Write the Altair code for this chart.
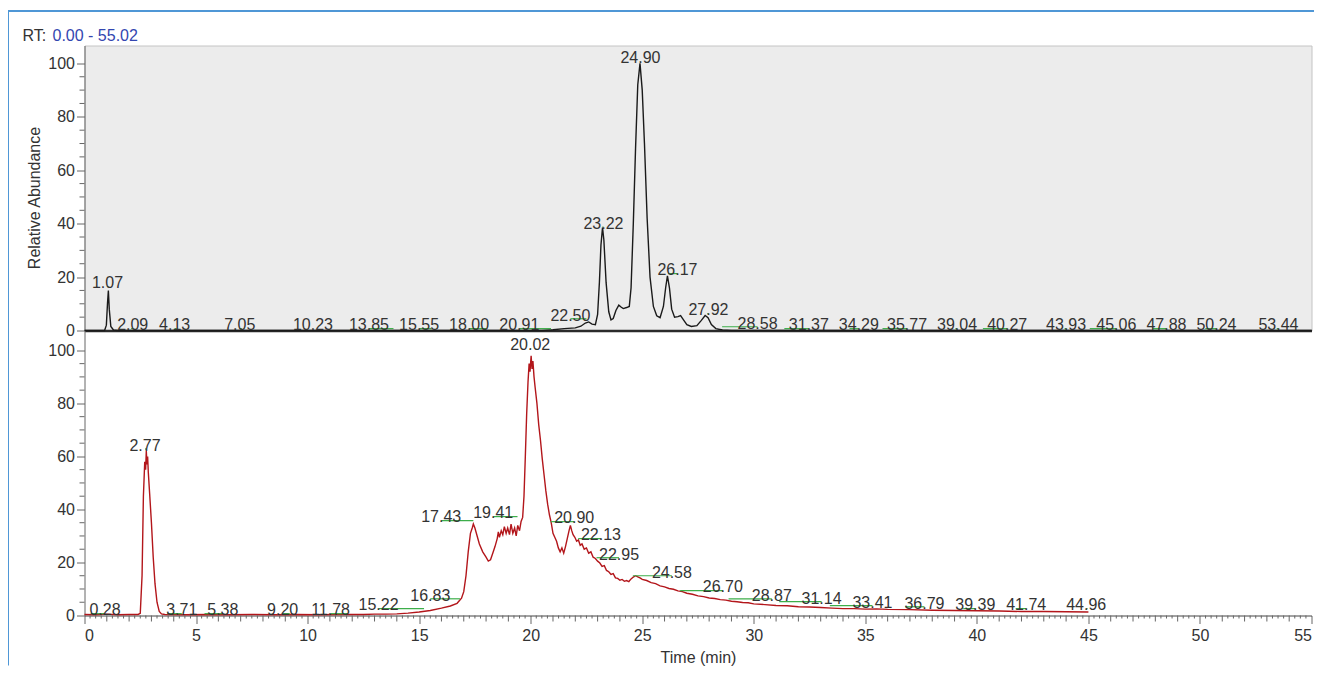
import altair as alt
import pandas as pd

# upper chromatogram (black trace)
upper_time = [0.0, 0.9, 0.98, 1.03, 1.07, 1.11, 1.18, 1.3, 1.5, 20.5, 21.0, 21.5, 22.0, 22.25,
              22.45, 22.6, 22.75, 22.9, 23.0, 23.08, 23.15, 23.22, 23.28, 23.38, 23.5, 23.6,
              23.7, 23.82, 23.95, 24.05, 24.15, 24.3, 24.42, 24.5, 24.6, 24.7, 24.8, 24.9,
              25.0, 25.1, 25.22, 25.35, 25.5, 25.65, 25.8, 25.95, 26.05, 26.13, 26.22, 26.32,
              26.45, 26.6, 26.72, 26.85, 27.0, 27.2, 27.45, 27.65, 27.82, 27.95, 28.1, 28.3,
              28.6, 29.0, 55.0]
upper_abund = [0, 0, 2, 10, 15, 8, 1.5, 0.2, 0, 0, 0.3, 0.7, 1.0, 1.6,
               2.8, 3.2, 2.4, 2.2, 6, 18, 32, 38.5, 34, 18, 7, 4,
               4.5, 7.5, 9.5, 8.8, 8.2, 8.6, 9, 16, 40, 68, 92, 100,
               90, 70, 42, 20, 9, 5.5, 4.8, 9, 16, 20.5, 16, 8,
               5, 5.2, 5.6, 4, 2.2, 1.5, 1.8, 3.8, 5.6, 4.8, 2.2, 0.7,
               0.2, 0, 0]

# lower chromatogram (red trace)
lower_time = [0.0, 0.5, 1.0, 1.5, 2.0, 2.4, 2.5, 2.58, 2.64, 2.7, 2.74, 2.77, 2.8, 2.83, 2.86,
              2.92, 3.0, 3.08, 3.16, 3.25, 3.35, 3.45, 3.6, 4.5, 5.5, 6.5, 7.5, 8.5, 9.5, 10.5,
              11.5, 12.5, 13.0, 13.5, 14.0, 14.5, 15.0, 15.5, 16.0, 16.4, 16.7, 16.9, 17.0,
              17.1, 17.2, 17.3, 17.38, 17.43, 17.5, 17.6, 17.7, 17.85, 18.0, 18.1, 18.2, 18.3,
              18.4, 18.5, 18.55, 18.6, 18.68, 18.75, 18.82, 18.9, 18.97, 19.05, 19.12, 19.2,
              19.28, 19.35, 19.42, 19.5, 19.57, 19.64, 19.7, 19.76, 19.82, 19.88, 19.93, 19.97,
              20.02, 20.06, 20.1, 20.15, 20.2, 20.28, 20.36, 20.44, 20.52, 20.6, 20.68, 20.76,
              20.84, 20.92, 21.0, 21.08, 21.16, 21.24, 21.32, 21.4, 21.48, 21.56, 21.64, 21.72,
              21.78, 21.84, 21.9, 21.98, 22.06, 22.14, 22.22, 22.3, 22.4, 22.5, 22.6, 22.7,
              22.8, 22.9, 23.0, 23.1, 23.2, 23.3, 23.4, 23.5, 23.6, 23.7, 23.8, 23.9, 24.0,
              24.1, 24.2, 24.3, 24.4, 24.5, 24.6, 24.7, 24.8, 24.9, 25.0, 25.2, 25.4, 25.6,
              25.8, 26.0, 26.2, 26.4, 26.6, 26.8, 27.0, 27.25, 27.5, 27.75, 28.0, 28.25, 28.5,
              28.75, 29.0, 29.25, 29.5, 29.75, 30.0, 30.5, 31.0, 31.5, 32.0, 32.5, 33.0, 33.5,
              34.0, 34.5, 35.0, 35.5, 36.0, 37.0, 38.0, 39.0, 40.0, 41.0, 42.0, 43.0, 44.0, 45.0]
lower_abund = [0.4, 0.3, 0.5, 0.3, 0.4, 0.4, 0.8, 15, 45, 58, 55, 62, 57, 60, 54,
               46, 35, 22, 12, 5, 1.5, 0.6, 0.4, 0.3, 0.4, 0.3, 0.4, 0.3, 0.4, 0.3,
               0.4, 0.4, 0.5, 0.5, 0.6, 0.9, 1.3, 1.9, 2.8, 3.6, 4.6, 6.5, 9,
               15, 24, 31, 33, 34.5, 33, 30, 27, 24, 22, 20.5, 21, 23.5,
               26, 29, 31.5, 29.5, 32, 30.5, 33.5, 31, 33, 30.5, 34.5, 31,
               33, 30, 34, 32, 35.5, 37, 45, 60, 76, 88, 95, 92,
               98, 93, 96, 90, 86, 80, 72, 66, 59, 53, 47, 42,
               38, 35, 31, 29.5, 28, 25.5, 24, 25.5, 23.5, 26, 29, 32,
               34, 32, 30.5, 29.5, 28, 28.5, 26.5, 27, 25, 25.5, 23.5, 24,
               22, 21.5, 20.5, 19.8, 18.5, 18.8, 17, 16.5, 15.5, 15.8, 14.2, 14, 13.3,
               13.6, 12.9, 13.2, 12.8, 13.8, 14.5, 15, 14.6, 14.2, 13.6, 13.2, 12.4, 12.0,
               11.2, 10.8, 10.2, 9.9, 9.3, 9.0, 8.4, 8.0, 7.4, 7.1, 6.6, 6.4, 6.0,
               5.8, 5.4, 5.2, 4.9, 4.8, 4.4, 4.1, 3.8, 3.7, 3.3, 3.2, 3.0, 2.8,
               2.6, 2.6, 2.4, 2.5, 2.3, 2.2, 2.0, 1.9, 1.8, 1.7, 1.5, 1.5, 1.4, 1.3]

# peak labels: text, where the text sits (time) and its baseline height
upper_labels = ["1.07", "2.09", "4.13", "7.05", "10.23", "13.85", "15.55", "18.00", "20.91",
                "22.50", "23.22", "24.90", "26.17", "27.92", "28.58", "31.37", "34.29", "35.77",
                "39.04", "40.27", "43.93", "45.06", "47.88", "50.24", "53.44"]
upper_label_time = [1.03, 2.16, 4.04, 6.96, 10.24, 12.75, 15.0, 17.24, 19.49,
                    21.78, 23.26, 24.92, 26.58, 27.97, 30.17, 32.47, 34.71, 36.87,
                    39.11, 41.36, 44.0, 46.25, 48.5, 50.74, 53.52]
upper_label_height = [17.6, 1.9, 1.9, 1.9, 1.9, 1.9, 1.9, 1.9, 1.9,
                      5.6, 40, 101.9, 22.5, 7.5, 2.6, 1.9, 1.9, 1.9,
                      1.9, 1.9, 1.9, 1.9, 1.9, 1.9, 1.9]

lower_labels = ["0.28", "2.77", "3.71", "5.38", "9.20", "11.78", "15.22", "16.83", "17.43",
                "19.41", "20.02", "20.90", "22.13", "22.95", "24.58", "26.70", "28.87", "31.14",
                "33.41", "36.79", "39.39", "41.74", "44.96"]
lower_label_time = [0.92, 2.71, 4.36, 6.20, 8.88, 11.03, 13.18, 15.50, 15.99,
                    18.32, 19.98, 21.95, 23.15, 23.96, 26.33, 28.61, 30.81, 33.04,
                    35.32, 37.65, 39.93, 42.21, 44.90]
lower_label_height = [1.9, 64, 1.9, 1.9, 1.9, 1.9, 3.8, 7.5, 37,
                      38.5, 101.9, 36.6, 30.2, 23, 16.2, 10.6, 7.5, 6.4,
                      4.9, 4.5, 3.8, 3.8, 3.8]

rt_range = ["0.00", "55.02"]

# axis ticks
x_major = list(range(0, 56, 5))
x_mid = [m for m in range(0, 56) if m % 5 != 0]
x_small = [q / 4 for q in range(0, 221) if q % 4 != 0]
y_major = [0, 20, 40, 60, 80, 100]
y_minor = [v for v in range(5, 101, 5) if v % 20 != 0]

FONT = "Arial, Liberation Sans, sans-serif"
FS = 16
TEXT = "#333333"
GREEN = "#3dae4a"
BLUE = "#4f97d6"
TICK = "#666666"
W, H = 1227, 285


def panel(time, abund, labels, lab_t, lab_y, color, y_top, x_axis, y_title):
    trace = pd.DataFrame({"time": time, "abund": abund})
    peaks = pd.DataFrame({"label": labels, "lt": lab_t, "ly": lab_y})
    peaks["peak"] = peaks["label"].astype(float)
    peaks["gy"] = peaks["ly"] - 1.2
    xs = alt.Scale(domain=[0, 55], nice=False, zero=False)
    ys = alt.Scale(domain=[0, y_top], nice=False)
    y_axis = alt.Axis(values=y_major, tickSize=8, labelPadding=2,
                      title=y_title, titlePadding=5, titleY=152)
    line = alt.Chart(trace).mark_line(color=color, strokeWidth=1.4).encode(
        x=alt.X("time:Q", scale=xs, axis=x_axis),
        y=alt.Y("abund:Q", scale=ys, axis=y_axis),
    )
    green = alt.Chart(peaks).mark_rule(color=GREEN, strokeWidth=1.2).encode(
        x="peak:Q", x2="lt:Q", y="gy:Q"
    )
    text = alt.Chart(peaks).mark_text(font=FONT, fontSize=FS, color=TEXT).encode(
        x="lt:Q", y="ly:Q", text="label:N"
    )
    y_small = alt.Chart(pd.DataFrame({"tick": y_minor})).mark_rule(color=TICK).encode(
        y="tick:Q", x=alt.value(-5), x2=alt.value(0)
    )
    return [line, green, text, y_small]


one = pd.DataFrame({"rt": [f"{rt_range[0]} - {rt_range[1]}"]})
rt_head = alt.Chart(one).mark_text(
    text="RT:", font=FONT, fontSize=FS, color=TEXT, align="left"
).encode(x=alt.value(-62), y=alt.value(-10))
rt_text = alt.Chart(one).mark_text(
    font=FONT, fontSize=FS, color="#3346b0", align="left"
).encode(x=alt.value(-32), y=alt.value(-10), text="rt:N")
frame_top = alt.Chart(one).mark_rule(color=BLUE, strokeWidth=2).encode(
    x=alt.value(-76.5), x2=alt.value(W + 7), y=alt.value(-34.5)
)
frame_left = alt.Chart(one).mark_rule(color=BLUE, strokeWidth=2).encode(
    x=alt.value(-76.5), y=alt.value(-34.5), y2=alt.value(620)
)

top_x_axis = alt.Axis(labels=False, ticks=False, title=None,
                      domainColor="#2b2b2b", domainWidth=2.5)
top = alt.layer(
    *panel(upper_time, upper_abund, upper_labels, upper_label_time, upper_label_height,
           "#1a1a1a", 106.7, top_x_axis, "Relative Abundance"),
    rt_head, rt_text, frame_top, frame_left,
).properties(width=W, height=H, view=alt.ViewBackground(fill="#ececec", stroke="#c4c4c4"))

bottom_x_axis = alt.Axis(values=x_major, tickSize=8, labelPadding=4,
                         title="Time (min)", titlePadding=6, domainColor="#444444")
x_mid_ticks = alt.Chart(pd.DataFrame({"tick": x_mid})).mark_rule(color=TICK).encode(
    x="tick:Q", y=alt.value(H), y2=alt.value(H + 6)
)
x_small_ticks = alt.Chart(pd.DataFrame({"tick": x_small})).mark_rule(color=TICK).encode(
    x="tick:Q", y=alt.value(H), y2=alt.value(H + 3)
)
bottom = alt.layer(
    *panel(lower_time, lower_abund, lower_labels, lower_label_time, lower_label_height,
           "#b3161b", 107.5, bottom_x_axis, None),
    x_mid_ticks, x_small_ticks,
).properties(width=W, height=H, view=alt.ViewBackground(stroke="transparent"))

chart = (
    alt.vconcat(top, bottom, spacing=0, bounds="flush")
    .properties(padding={"left": -1.5, "top": 1.5, "right": -7, "bottom": 0})
    .configure_axis(
        labelFont=FONT, labelFontSize=FS, labelColor=TEXT,
        titleFont=FONT, titleFontSize=FS, titleFontWeight="normal", titleColor=TEXT,
        domainColor=TICK, tickColor=TICK, grid=False,
    )
)

chart.save("out.html", embed_options={"renderer": "svg", "actions": False})
